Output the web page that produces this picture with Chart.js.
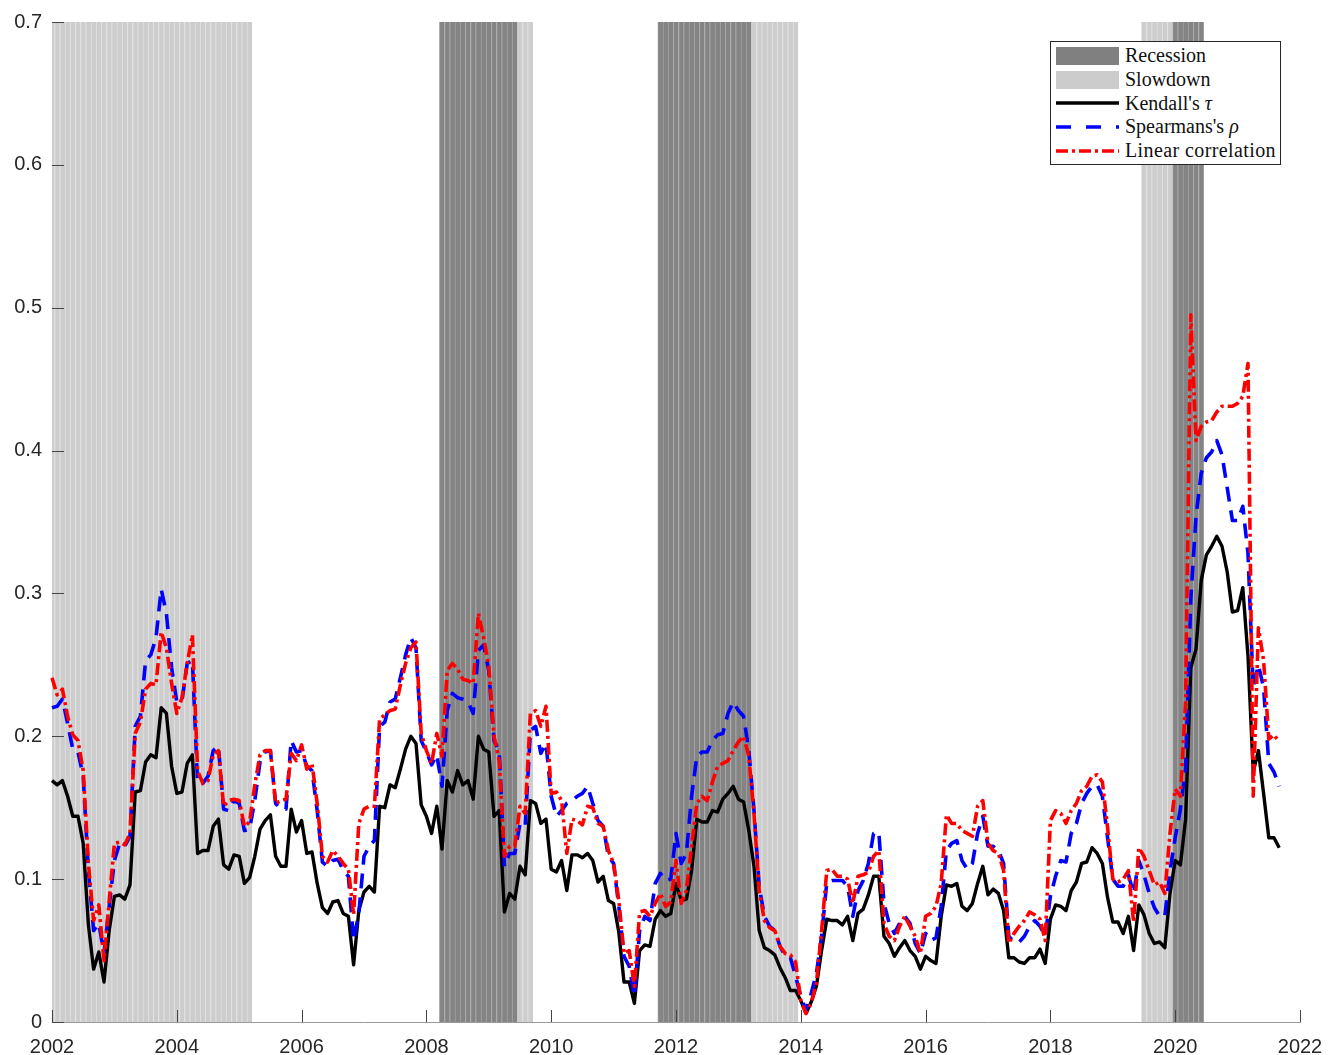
<!DOCTYPE html>
<html>
<head>
<meta charset="utf-8">
<script src="https://cdn.jsdelivr.net/npm/chart.js@4.4.1/dist/chart.umd.min.js"></script>
<style>
  body { margin: 0; background: #fff; }
  #wrap { position: relative; width: 1336px; height: 1055px; }
  #legend {
    position: absolute; left: 1050px; top: 41px; width: 231px; height: 124px;
    border: 1px solid #262626; background: #fff; box-sizing: border-box;
    padding-top: 2px; font-family: "Liberation Serif", serif; font-size: 20px; color: #111;
  }
  .row { display: flex; align-items: center; height: 23.7px; }
  .row svg { margin-left: 5px; margin-right: 6px; flex: none; }
</style>
</head>
<body>
<div id="wrap">
  <canvas id="chart" width="1336" height="1055"></canvas>
  <div id="legend">
    <div class="row"><svg width="63" height="20"><rect x="0" y="1" width="63" height="18" fill="#808080"/></svg>Recession</div>
    <div class="row"><svg width="63" height="20"><rect x="0" y="1" width="63" height="18" fill="#cccccc"/></svg>Slowdown</div>
    <div class="row"><svg width="63" height="20"><line x1="0" y1="10" x2="63" y2="10" stroke="#000" stroke-width="3.4"/></svg>Kendall's&nbsp;<i>τ</i></div>
    <div class="row"><svg width="63" height="20"><line x1="0" y1="10" x2="63" y2="10" stroke="#0000ff" stroke-width="3.6" stroke-dasharray="15 15"/></svg>Spearmans's&nbsp;<i>ρ</i></div>
    <div class="row"><svg width="63" height="20"><line x1="0" y1="10" x2="63" y2="10" stroke="#ff0000" stroke-width="3.6" stroke-dasharray="12 4 3 4"/></svg><span style="letter-spacing:0.4px">Linear correlation</span></div>
  </div>
</div>
<script>
// monthly observations starting January 2002
const startYear = 2002;
const endYear = 2022;

const kendall = [
  0.169, 0.166, 0.169, 0.158, 0.144, 0.144, 0.125, 0.068, 0.037, 0.049, 0.028, 0.064,
  0.088, 0.089, 0.086, 0.096, 0.161, 0.162, 0.182, 0.187, 0.185, 0.220, 0.216, 0.179,
  0.160, 0.161, 0.181, 0.187, 0.118, 0.120, 0.120, 0.137, 0.142, 0.110, 0.107, 0.117,
  0.116, 0.097, 0.101, 0.116, 0.135, 0.141, 0.145, 0.116, 0.109, 0.109, 0.149, 0.133,
  0.141, 0.118, 0.119, 0.097, 0.080, 0.076, 0.084, 0.085, 0.076, 0.074, 0.040, 0.078,
  0.091, 0.095, 0.091, 0.151, 0.150, 0.166, 0.164, 0.177, 0.191, 0.200, 0.195, 0.152,
  0.144, 0.132, 0.151, 0.121, 0.169, 0.161, 0.176, 0.166, 0.169, 0.156, 0.200, 0.191,
  0.189, 0.144, 0.148, 0.077, 0.090, 0.086, 0.109, 0.103, 0.155, 0.153, 0.139, 0.142,
  0.107, 0.105, 0.113, 0.092, 0.117, 0.117, 0.115, 0.118, 0.113, 0.098, 0.102, 0.085,
  0.083, 0.063, 0.028, 0.028, 0.013, 0.050, 0.054, 0.053, 0.072, 0.078, 0.074, 0.076,
  0.097, 0.085, 0.086, 0.106, 0.142, 0.140, 0.140, 0.148, 0.147, 0.156, 0.160, 0.165,
  0.156, 0.154, 0.134, 0.109, 0.064, 0.052, 0.050, 0.047, 0.038, 0.031, 0.022, 0.022,
  0.015, 0.006, 0.014, 0.025, 0.050, 0.072, 0.071, 0.071, 0.068, 0.074, 0.057, 0.076,
  0.079, 0.089, 0.102, 0.102, 0.060, 0.055, 0.046, 0.052, 0.057, 0.050, 0.046, 0.037,
  0.046, 0.043, 0.041, 0.074, 0.096, 0.095, 0.097, 0.081, 0.078, 0.083, 0.097, 0.109,
  0.089, 0.093, 0.090, 0.078, 0.045, 0.045, 0.042, 0.041, 0.045, 0.045, 0.051, 0.041,
  0.072, 0.082, 0.081, 0.078, 0.092, 0.098, 0.111, 0.112, 0.122, 0.118, 0.111, 0.087,
  0.070, 0.070, 0.062, 0.074, 0.050, 0.082, 0.075, 0.062, 0.055, 0.056, 0.052, 0.090,
  0.113, 0.110, 0.142, 0.248, 0.261, 0.309, 0.327, 0.333, 0.340, 0.333, 0.315, 0.287,
  0.288, 0.304, 0.256, 0.175, 0.190, 0.160, 0.129, 0.129, 0.122
];

const spearman = [
  0.220, 0.221, 0.226, 0.209, 0.191, 0.189, 0.172, 0.106, 0.064, 0.069, 0.048, 0.081,
  0.113, 0.125, 0.123, 0.130, 0.207, 0.214, 0.253, 0.257, 0.269, 0.303, 0.286, 0.248,
  0.224, 0.225, 0.251, 0.253, 0.167, 0.167, 0.172, 0.190, 0.193, 0.149, 0.148, 0.155,
  0.153, 0.134, 0.135, 0.155, 0.182, 0.189, 0.190, 0.153, 0.149, 0.149, 0.197, 0.189,
  0.190, 0.179, 0.176, 0.148, 0.112, 0.109, 0.113, 0.114, 0.106, 0.102, 0.057, 0.076,
  0.116, 0.123, 0.127, 0.207, 0.210, 0.224, 0.226, 0.241, 0.257, 0.269, 0.262, 0.197,
  0.189, 0.180, 0.187, 0.165, 0.218, 0.230, 0.227, 0.226, 0.224, 0.216, 0.260, 0.264,
  0.246, 0.197, 0.190, 0.109, 0.118, 0.118, 0.139, 0.137, 0.204, 0.207, 0.188, 0.195,
  0.158, 0.144, 0.148, 0.153, 0.155, 0.158, 0.160, 0.165, 0.153, 0.141, 0.137, 0.116,
  0.111, 0.081, 0.046, 0.039, 0.018, 0.064, 0.074, 0.071, 0.097, 0.104, 0.099, 0.100,
  0.132, 0.111, 0.118, 0.158, 0.186, 0.189, 0.189, 0.197, 0.201, 0.202, 0.216, 0.224,
  0.218, 0.214, 0.190, 0.148, 0.095, 0.074, 0.067, 0.064, 0.053, 0.046, 0.045, 0.032,
  0.018, 0.008, 0.020, 0.034, 0.060, 0.098, 0.099, 0.099, 0.099, 0.095, 0.074, 0.092,
  0.099, 0.111, 0.132, 0.133, 0.083, 0.069, 0.062, 0.069, 0.074, 0.069, 0.055, 0.048,
  0.062, 0.057, 0.059, 0.081, 0.120, 0.125, 0.127, 0.113, 0.107, 0.111, 0.132, 0.144,
  0.123, 0.123, 0.120, 0.111, 0.060, 0.056, 0.056, 0.060, 0.067, 0.071, 0.067, 0.060,
  0.088, 0.102, 0.113, 0.112, 0.132, 0.139, 0.153, 0.160, 0.165, 0.166, 0.158, 0.129,
  0.100, 0.095, 0.095, 0.103, 0.090, 0.113, 0.103, 0.090, 0.080, 0.074, 0.074, 0.106,
  0.129, 0.149, 0.178, 0.296, 0.354, 0.384, 0.395, 0.399, 0.407, 0.397, 0.374, 0.351,
  0.351, 0.361, 0.328, 0.234, 0.250, 0.234, 0.181, 0.175, 0.165
];

const linear = [
  0.241, 0.229, 0.233, 0.214, 0.201, 0.197, 0.176, 0.111, 0.071, 0.082, 0.043, 0.085,
  0.125, 0.126, 0.124, 0.132, 0.202, 0.210, 0.233, 0.237, 0.236, 0.273, 0.262, 0.237,
  0.216, 0.227, 0.251, 0.271, 0.176, 0.167, 0.169, 0.187, 0.190, 0.151, 0.155, 0.156,
  0.155, 0.137, 0.140, 0.166, 0.187, 0.190, 0.190, 0.153, 0.155, 0.156, 0.188, 0.183,
  0.194, 0.177, 0.181, 0.153, 0.116, 0.112, 0.120, 0.116, 0.111, 0.107, 0.075, 0.139,
  0.149, 0.151, 0.151, 0.212, 0.215, 0.218, 0.219, 0.236, 0.251, 0.262, 0.266, 0.202,
  0.190, 0.181, 0.202, 0.186, 0.246, 0.251, 0.247, 0.240, 0.239, 0.237, 0.286, 0.269,
  0.249, 0.200, 0.183, 0.116, 0.123, 0.123, 0.151, 0.146, 0.216, 0.218, 0.207, 0.221,
  0.160, 0.161, 0.155, 0.118, 0.142, 0.141, 0.138, 0.151, 0.150, 0.139, 0.137, 0.120,
  0.111, 0.085, 0.048, 0.050, 0.025, 0.077, 0.078, 0.074, 0.083, 0.090, 0.081, 0.084,
  0.113, 0.083, 0.092, 0.123, 0.153, 0.158, 0.155, 0.168, 0.179, 0.181, 0.183, 0.190,
  0.196, 0.200, 0.186, 0.146, 0.092, 0.071, 0.066, 0.064, 0.053, 0.048, 0.047, 0.042,
  0.015, 0.006, 0.013, 0.027, 0.064, 0.106, 0.107, 0.102, 0.102, 0.100, 0.083, 0.102,
  0.103, 0.105, 0.116, 0.120, 0.069, 0.060, 0.057, 0.067, 0.074, 0.067, 0.060, 0.048,
  0.074, 0.076, 0.081, 0.097, 0.145, 0.139, 0.139, 0.134, 0.132, 0.130, 0.151, 0.155,
  0.125, 0.120, 0.118, 0.106, 0.055, 0.062, 0.067, 0.071, 0.077, 0.075, 0.072, 0.057,
  0.141, 0.148, 0.146, 0.139, 0.148, 0.153, 0.162, 0.165, 0.172, 0.173, 0.168, 0.136,
  0.100, 0.098, 0.100, 0.106, 0.070, 0.122, 0.116, 0.106, 0.096, 0.098, 0.090, 0.132,
  0.163, 0.158, 0.224, 0.495, 0.407, 0.417, 0.420, 0.421, 0.427, 0.431, 0.431, 0.431,
  0.433, 0.438, 0.461, 0.158, 0.276, 0.253, 0.198, 0.201, 0.196
];

// shaded periods, first and last month (inclusive)
const recessions = [["2008-04", "2009-06"], ["2011-10", "2013-03"], ["2020-01", "2020-06"]];
const slowdowns = [["2002-01", "2005-03"], ["2009-07", "2009-09"], ["2013-04", "2013-12"], ["2019-07", "2019-12"]];

const yTop = 0.7;

const monthIndex = (s) => {
  const [y, m] = s.split("-").map(Number);
  return (y - startYear) * 12 + (m - 1);
};

const nMonths = (endYear - startYear) * 12 + 1;
const labels = [];
for (let i = 0; i < nMonths; i++) {
  labels.push(String(startYear + Math.floor(i / 12)));
}

function shadeData(periods) {
  const out = new Array(nMonths).fill(null);
  periods.forEach(([a, b]) => {
    for (let i = monthIndex(a); i <= monthIndex(b); i++) out[i] = yTop;
  });
  return out;
}

const innerTicks = {
  id: "innerTicks",
  afterDatasetsDraw(chart) {
    const { ctx, chartArea, scales } = chart;
    ctx.save();
    ctx.strokeStyle = "#444";
    ctx.lineWidth = 1;
    scales.x.ticks.forEach((t, i) => {
      const x = Math.round(scales.x.getPixelForTick(i)) + 0.5;
      ctx.beginPath();
      ctx.moveTo(x, chartArea.bottom);
      ctx.lineTo(x, chartArea.bottom - 12);
      ctx.stroke();
    });
    scales.y.ticks.forEach((t, i) => {
      const y = Math.round(scales.y.getPixelForTick(i)) + 0.5;
      ctx.beginPath();
      ctx.moveTo(chartArea.left, y);
      ctx.lineTo(chartArea.left + 12, y);
      ctx.stroke();
    });
    ctx.restore();
  },
};

const lineStyle = { pointRadius: 0, tension: 0, fill: false, borderJoinStyle: "round" };
const barStyle = {
  type: "bar",
  barPercentage: 1,
  categoryPercentage: 1,
  grouped: false,
  borderSkipped: false,
  borderWidth: { left: 1, right: 0, top: 0, bottom: 0 },
  order: 10,
};

new Chart(document.getElementById("chart"), {
  data: {
    labels,
    datasets: [
      { ...barStyle, label: "Recession", data: shadeData(recessions), backgroundColor: "#848484", borderColor: "#a2a2a2" },
      { ...barStyle, label: "Slowdown", data: shadeData(slowdowns), backgroundColor: "#cdcdcd", borderColor: "#e2e2e2" },
      { ...lineStyle, type: "line", label: "Kendall's τ", data: kendall, borderColor: "#000000", borderWidth: 3.4, order: 3 },
      { ...lineStyle, type: "line", label: "Spearmans's ρ", data: spearman, borderColor: "#0000ff", borderWidth: 3.6, borderDash: [15, 9], order: 2 },
      { ...lineStyle, type: "line", label: "Linear correlation", data: linear, borderColor: "#ff0000", borderWidth: 3.6, borderDash: [12, 4, 3, 4], order: 1 },
    ],
  },
  options: {
    responsive: false,
    animation: false,
    layout: { padding: { top: 21, right: 36, bottom: 0, left: 0 } },
    plugins: { legend: { display: false }, tooltip: { enabled: false } },
    scales: {
      x: {
        type: "category",
        offset: false,
        grid: { display: false, drawTicks: false },
        border: { display: true, color: "#9a9a9a", width: 1 },
        afterBuildTicks: (scale) => {
          scale.ticks = scale.ticks.filter((t) => t.value % 24 === 0);
        },
        afterFit: (scale) => { scale.height = 33; },
        ticks: {
          autoSkip: false,
          maxRotation: 0,
          padding: 13,
          color: "#262626",
          font: { family: "'Liberation Sans', Arial, sans-serif", size: 20 },
        },
      },
      y: {
        min: 0,
        max: yTop,
        grid: { display: false, drawTicks: false },
        border: { display: false },
        afterFit: (scale) => { scale.width = 52; },
        ticks: {
          stepSize: 0.1,
          padding: 10,
          color: "#262626",
          font: { family: "'Liberation Sans', Arial, sans-serif", size: 20 },
        },
      },
    },
  },
  plugins: [innerTicks],
});
</script>
</body>
</html>
